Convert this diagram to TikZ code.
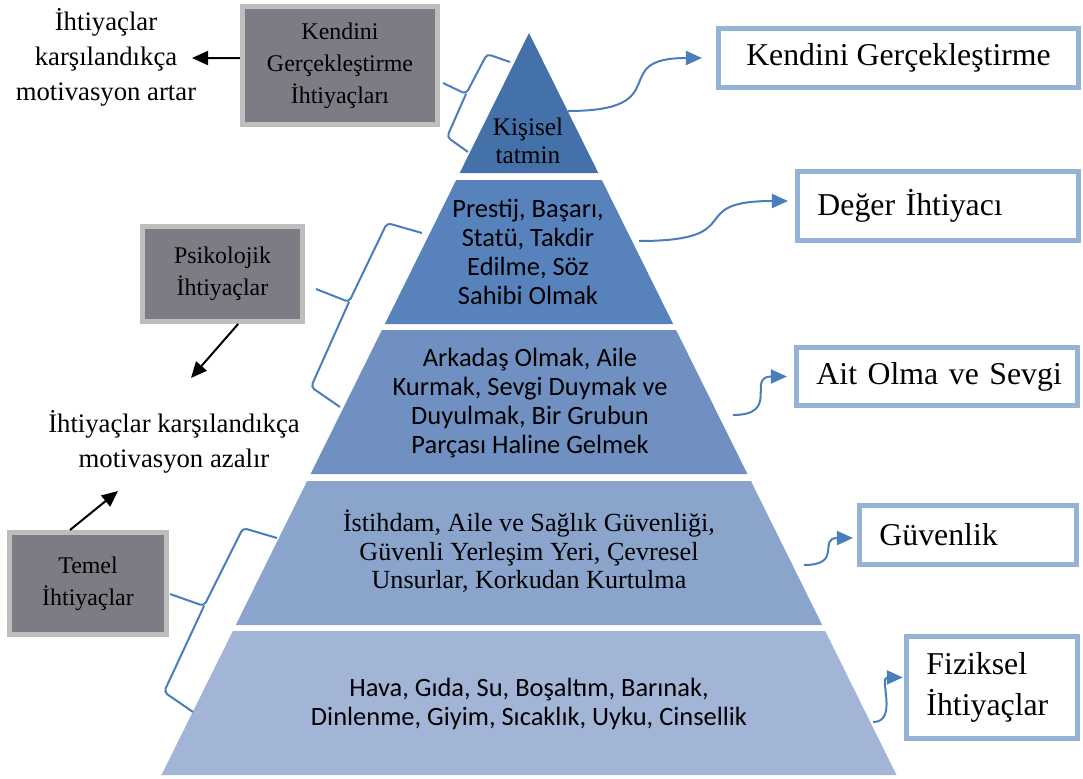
\documentclass[tikz,border=0pt]{standalone}
\usepackage{fontspec}
\setmainfont{Liberation Serif}
\newfontfamily\calibri{Carlito}
\usetikzlibrary{arrows.meta}

\begin{document}
\begin{tikzpicture}[x=0.025cm,y=0.025cm,>={Triangle[length=0.4cm,width=0.35cm]},
	gray node/.style={draw=grayline,fill=grayfill,line width=0.125cm,inner sep=0pt,align=center,
		font=\fontsize{17}{22.8}\selectfont},
	goal node/.style={draw=goalline,fill=white,line width=0.125cm,inner xsep=0.5cm,inner ysep=0pt,
		align=left,font=\fontsize{22.6}{29}\selectfont},
	level text/.style={align=center,font=\calibri\fontsize{18.8}{20.6}\selectfont},
	note text/.style={align=center,font=\fontsize{19}{24.9}\selectfont},
	blue arrow/.style={->,color=blueline,line width=0.05cm},
	black arrow/.style={->,color=black,line width=0.05cm},
	brace line/.style={color=blueline,line width=0.05cm,rounded corners=0.1cm}]
	
	\definecolor{grayfill}{RGB}{124,124,132}
	\definecolor{grayline}{RGB}{190,190,190}
	\definecolor{goalline}{RGB}{149,179,215}
	\definecolor{blueline}{RGB}{74,126,187}
	\definecolor{lvA}{RGB}{68,113,170}
	\definecolor{lvB}{RGB}{88,130,188}
	\definecolor{lvC}{RGB}{112,144,194}
	\definecolor{lvD}{RGB}{138,164,204}
	\definecolor{lvE}{RGB}{162,181,214}
	
	\useasboundingbox (0,0) rectangle (1083,-778);
	
	% pyramid
	\foreach \ya/\yb/\col in {33/173/lvA,180/324/lvB,330/474/lvC,481/625/lvD,631/775/lvE}
	\fill[\col] ({529-0.4953*(\ya-33)},-\ya) -- ({529+0.4953*(\ya-33)},-\ya)
	-- ({529+0.4953*(\yb-33)},-\yb) -- ({529-0.4953*(\yb-33)},-\yb) -- cycle;
	
	\node[level text,font=\fontsize{18}{20}\selectfont] (l1) at (528,-141) {Kişisel\\tatmin};
	\node[level text] (l2) at (528,-251.5) {Prestij, Başarı,\\Statü, Takdir\\Edilme, Söz\\Sahibi Olmak};
	\node[level text] (l3) at (530,-403) {Arkadaş Olmak, Aile\\Kurmak, Sevgi Duymak ve\\Duyulmak, Bir Grubun\\Parçası Haline Gelmek};
	\node[level text,font=\fontsize{18.6}{20.3}\selectfont] (l4) at (529,-551.5) {İstihdam, Aile ve Sağlık Güvenliği,\\Güvenli Yerleşim Yeri, Çevresel\\Unsurlar, Korkudan Kurtulma};
	\node[level text] (l5) at (529,-704) {Hava, Gıda, Su, Boşaltım, Barınak,\\Dinlenme, Giyim, Sıcaklık, Uyku, Cinsellik};
	
	% left side
	\node[gray node,minimum width=4.875cm,minimum height=2.95cm] (g1) at (340,-65.5) {Kendini\\Gerçekleştirme\\İhtiyaçları};
	\node[gray node,minimum width=4cm,minimum height=2.375cm] (g2) at (222.5,-274) {Psikolojik\\İhtiyaçlar};
	\node[gray node,minimum width=3.925cm,minimum height=2.55cm] (g3) at (88,-583.5) {Temel\\İhtiyaçlar};
	
	\node[note text] (t1) at (106,-57) {İhtiyaçlar\\karşılandıkça\\motivasyon artar};
	\node[note text] (t2) at (174,-442) {İhtiyaçlar karşılandıkça\\motivasyon azalır};
	
	% right side
	\node[goal node,align=center,minimum width=9cm,minimum height=1.475cm] (b1) at (898.5,-58) {Kendini Gerçekleştirme};
	\node[goal node,text width=6.025cm,minimum height=1.725cm] (b2) at (938,-206) {Değer~İhtiyacı};
	\node[goal node,text width=6.025cm,minimum height=1.45cm] (b3) at (937,-376.5) {Ait~Olma~ve~Sevgi};
	\node[goal node,text width=4.425cm,minimum height=1.475cm] (b4) at (968,-535) {Güvenlik};
	\node[goal node,text width=3.275cm,minimum height=2.55cm] (b5) at (992,-687) {Fiziksel\\İhtiyaçlar};
	
	\coordinate (s1) at (568,-111);
	\coordinate (s2) at (639,-241);
	\coordinate (s3) at (733,-415);
	\coordinate (s4) at (804,-565);
	\coordinate (s5) at (873,-722);
	\coordinate (k1) at (192,-58);
	\coordinate (k2) at (191,-378);
	\coordinate (k3) at (118,-491);
	
	\path[blue arrow]
	(s1) edge[out=0,in=180,looseness=1.8,shorten >=0.35cm] (b1.west)
	(s2) edge[out=0,in=180,looseness=1.8,shorten >=0.175cm] ([yshift=0.125cm]b2.west)
	(s3) edge[out=0,in=180,looseness=1.7,shorten >=0.175cm] (b3.west)
	(s4) edge[out=0,in=180,looseness=1.7,shorten >=0.1cm] ([yshift=-0.075cm]b4.west)
	(s5) edge[out=0,in=180,looseness=1.2,shorten >=0.03cm] ([yshift=0.24cm]b5.west);
	
	\path[black arrow]
	([yshift=0.1875cm]g1.west) edge (k1)
	([xshift=0.39cm]g2.south) edge (k2)
	([xshift=-0.45cm]g3.north) edge (k3);
	
	% braces
	\draw[brace line] (510,-62) -- (487,-54) -- (466,-94) -- (443,-83) (466,-94) -- (447,-137) -- (468,-152);
	\draw[brace line] (422,-233) -- (387,-223) -- (349,-302) -- (316,-289) (349,-302) -- (311,-387) -- (340,-407);
	\draw[brace line] (277,-538) -- (243,-528) -- (204,-606) -- (170,-594) (204,-606) -- (164,-692) -- (193,-712);
\end{tikzpicture}
\end{document}
